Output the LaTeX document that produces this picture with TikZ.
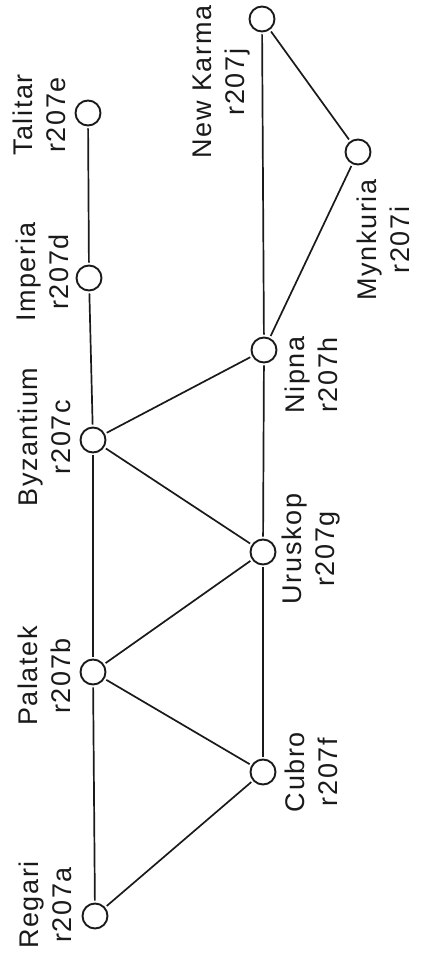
\documentclass[tikz,border=0pt]{standalone}
\usepackage{fontspec}
\setmainfont{Liberation Sans}
\newfontfamily\labfont[LetterSpace=6]{Liberation Sans}
\definecolor{ink}{HTML}{1A1A1A}
\begin{document}
\begin{tikzpicture}[x=1pt,y=-1pt,
  stn/.style={circle,draw=ink,line width=1.9pt,minimum size=25pt,inner sep=0pt,fill=white},
  lab/.style={rotate=90,align=center,font=\labfont\fontsize{27}{33}\selectfont,inner sep=0pt,text=ink},
  link/.style={draw=ink,line width=1.7pt,shorten <=2pt,shorten >=2pt}]
\useasboundingbox[fill=white] (0,0) rectangle (422,955);
% stations
\node[stn] (a) at (95,916) {};
\node[stn] (b) at (93,672) {};
\node[stn] (c) at (93,440) {};
\node[stn] (d) at (89,278) {};
\node[stn] (e) at (88,113) {};
\node[stn] (f) at (263,772) {};
\node[stn] (g) at (263,552) {};
\node[stn] (h) at (264,350) {};
\node[stn] (j) at (262,19) {};
\node[stn] (i) at (358,152) {};
% labels
\node[lab] (la) at (45,905) {Regari\\r207a};
\node[lab] (lb) at (44,676) {Palatek\\r207b};
\node[lab] (lc) at (44,437) {Byzantium\\r207c};
\node[lab] (ld) at (42,272) {Imperia\\r207d};
\node[lab] (le) at (39,115) {Talitar\\r207e};
\node[lab] (lf) at (311,772) {Cubro\\r207f};
\node[lab] (lg) at (311,549) {Uruskop\\r207g};
\node[lab] (lh) at (311,375) {Nipna\\r207h};
\node[lab] (lj) at (222,82) {New Karma\\r207j};
\node[lab] (li) at (383,240) {Mynkuria\\r207i};
% links
\draw[link] (a) -- (b);
\draw[link] (b) -- (c);
\draw[link] (c) -- (d);
\draw[link] (d) -- (e);
\draw[link] (a) -- (f);
\draw[link] (b) -- (f);
\draw[link] (b) -- (g);
\draw[link] (c) -- (g);
\draw[link] (c) -- (h);
\draw[link] (f) -- (g);
\draw[link] (g) -- (h);
\draw[link] (h) -- (j);
\draw[link] (j) -- (i);
\draw[link] (i) -- (h);
\end{tikzpicture}
\end{document}
